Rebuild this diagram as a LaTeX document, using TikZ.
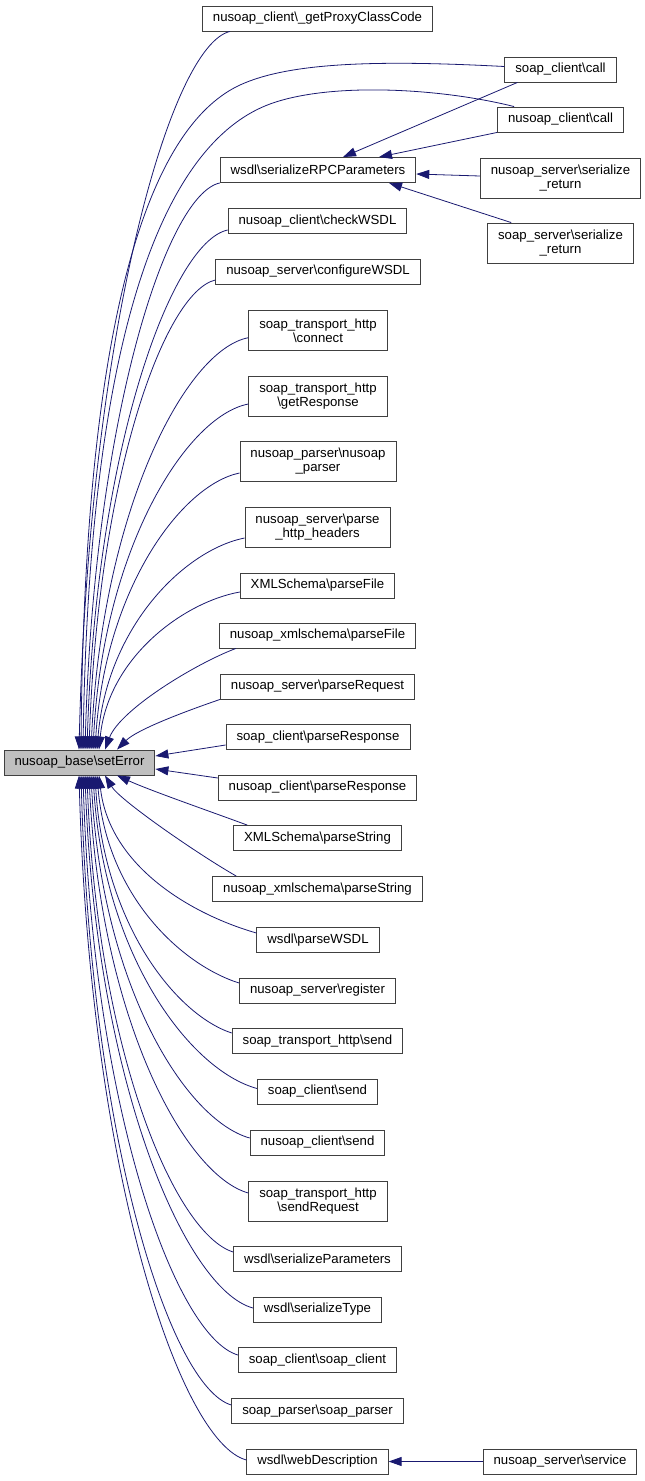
\documentclass[tikz,border=0pt]{standalone}
\usepackage{fontspec}
\setmainfont{Liberation Sans}
\usetikzlibrary{arrows.meta}
\definecolor{edgec}{HTML}{191970}
\definecolor{boxc}{HTML}{404040}
\definecolor{errfill}{HTML}{BFBFBF}
\newcommand{\bsl}{\textbackslash}
\begin{document}
\begin{tikzpicture}[x=1pt,y=-1pt,
  box/.style={draw=boxc, line width=0.9pt, fill=white, inner xsep=10.5pt, inner ysep=0pt,
    minimum height=25pt, align=center, font=\fontsize{13.2}{14.5}\selectfont},
  box2/.style={box, minimum height=40pt},
  edge/.style={draw=edgec, line width=0.8pt, -{Triangle[length=13pt,width=9pt]}},
]
\useasboundingbox (0,0) rectangle (645,1481);

\node[box] (n1) at (317.5,18.5) {nusoap\_client\bsl\_getProxyClassCode};
\node[box] (n2) at (560.5,69.5) {soap\_client\bsl call};
\node[box] (n3) at (560.5,119.5) {nusoap\_client\bsl call};
\node[box] (n4) at (318,170) {wsdl\bsl serializeRPCParameters};
\node[box2] (n5) at (560.5,178) {nusoap\_server\bsl serialize\\\_return};
\node[box2] (n6) at (560.5,243) {soap\_server\bsl serialize\\\_return};
\node[box] (n7) at (317.5,221) {nusoap\_client\bsl checkWSDL};
\node[box] (n8) at (318,271.5) {nusoap\_server\bsl configureWSDL};
\node[box2] (n9) at (318,330.7) {soap\_transport\_http\\\bsl connect};
\node[box2] (n10) at (318,396) {soap\_transport\_http\\\bsl getResponse};
\node[box2] (n11) at (318,461) {nusoap\_parser\bsl nusoap\\\_parser};
\node[box2] (n12) at (317.5,527) {nusoap\_server\bsl parse\\\_http\_headers};
\node[box] (n13) at (317.5,585.5) {XMLSchema\bsl parseFile};
\node[box] (n14) at (317.5,635.5) {nusoap\_xmlschema\bsl parseFile};
\node[box] (n15) at (317.5,686.5) {nusoap\_server\bsl parseRequest};
\node[box] (n16) at (318,737) {soap\_client\bsl parseResponse};
\node[box] (n17) at (317.5,787.5) {nusoap\_client\bsl parseResponse};
\node[box] (n18) at (317.5,838) {XMLSchema\bsl parseString};
\node[box] (n19) at (317.5,889) {nusoap\_xmlschema\bsl parseString};
\node[box] (n20) at (318,940) {wsdl\bsl parseWSDL};
\node[box] (n21) at (317.5,990.5) {nusoap\_server\bsl register};
\node[box] (n22) at (317.5,1041) {soap\_transport\_http\bsl send};
\node[box] (n23) at (317.5,1091.5) {soap\_client\bsl send};
\node[box] (n24) at (317.5,1142.5) {nusoap\_client\bsl send};
\node[box2] (n25) at (318,1201) {soap\_transport\_http\\\bsl sendRequest};
\node[box] (n26) at (317.5,1258.5) {wsdl\bsl serializeParameters};
\node[box] (n27) at (317.5,1309.5) {wsdl\bsl serializeType};
\node[box] (n28) at (317.5,1360) {soap\_client\bsl soap\_client};
\node[box] (n29) at (317.5,1411) {soap\_parser\bsl soap\_parser};
\node[box] (n30) at (317.5,1461.5) {wsdl\bsl webDescription};
\node[box] (n31) at (560,1461.5) {nusoap\_server\bsl service};
\node[box, fill=errfill] (err) at (79.5,762.5) {nusoap\_base\bsl setError};

% edges above
\draw[edge] ([xshift=28pt]n1.south west) .. controls +(-60,14) and +(10,-417) .. ([xshift=-0.5pt]err.north);
\draw[edge] ([yshift=3pt]n2.west) .. controls (380,60) and (290,62) .. (240,85) .. controls (160,122) and (85,280) .. ([xshift=1.5pt]err.north);
\draw[edge] ([xshift=17pt]n3.north west) .. controls (440,88) and (330,82) .. (270,104) .. controls (175,139) and (90,300) .. ([xshift=3.5pt]err.north);
\draw[edge] (n4.south west) .. controls +(-54,12) and +(9,-329) .. ([xshift=5.5pt]err.north);
\draw[edge] ([yshift=-9pt]n7.west) .. controls +(-56,12) and +(9,-302) .. ([xshift=7.5pt]err.north);
\draw[edge] ([yshift=-8.5pt]n8.west) .. controls +(-51,12) and +(9,-273) .. ([xshift=9.5pt]err.north);
\draw[edge] ([yshift=-7pt]n9.west) .. controls +(-63,12) and +(11,-239) .. ([xshift=11.5pt]err.north);
\draw[edge] ([yshift=-8pt]n10.west) .. controls +(-62,12) and +(10,-201) .. ([xshift=13.5pt]err.north);
\draw[edge] ([yshift=-12pt]n11.west) .. controls +(-58,12) and +(10,-161) .. ([xshift=15.5pt]err.north);
\draw[edge] ([yshift=-11pt]n12.west) .. controls +(-60,12) and +(10,-123) .. ([xshift=17.5pt]err.north);
\draw[edge] ([yshift=-6.5pt]n13.west) .. controls +(-56,10) and +(9,-92) .. ([xshift=19.5pt]err.north);
\draw[edge] ([xshift=17pt]n14.south west) .. controls +(-40,15) and +(15,-40) .. ([xshift=25.5pt]err.north);
\draw[edge] (n15.south west) .. controls +(-35,12) and +(20,-20) .. ([xshift=37.5pt]err.north);

% edges right
\draw[edge] ([yshift=-8pt]n16.west) -- ([yshift=6.5pt]err.east);
\draw[edge] ([yshift=9.5pt]n17.west) -- ([yshift=-6.5pt]err.east);

% edges below
\draw[edge] ([xshift=14pt]n18.north west) .. controls +(-38,-14) and +(33,15) .. ([xshift=37.5pt]err.south);
\draw[edge] ([xshift=24pt]n19.north west) .. controls +(-37,-21) and +(15,25) .. ([xshift=25.5pt]err.south);
\draw[edge] ([yshift=7pt]n20.west) .. controls +(-63,-18) and +(10.5,92) .. ([xshift=19.5pt]err.south);
\draw[edge] ([yshift=7.5pt]n21.west) .. controls +(-57,-18) and +(10,121) .. ([xshift=17.5pt]err.south);
\draw[edge] ([yshift=8pt]n22.west) .. controls +(-55,-18) and +(9,150) .. ([xshift=15.5pt]err.south);
\draw[edge] ([yshift=3pt]n23.west) .. controls +(-66,-18) and +(11,182) .. ([xshift=13.5pt]err.south);
\draw[edge] ([yshift=4.5pt]n24.west) .. controls +(-64,-18) and +(11,211) .. ([xshift=11.5pt]err.south);
\draw[edge] ([yshift=8pt]n25.west) .. controls +(-64,-18) and +(11,242) .. ([xshift=9.5pt]err.south);
\draw[edge] ([yshift=6.5pt]n26.west) .. controls +(-58,-18) and +(10,277) .. ([xshift=7.5pt]err.south);
\draw[edge] ([yshift=1.5pt]n27.west) .. controls +(-67,-18) and +(11,309) .. ([xshift=5.5pt]err.south);
\draw[edge] ([yshift=5pt]n28.west) .. controls +(-62,-18) and +(10,336) .. ([xshift=3.5pt]err.south);
\draw[edge] ([yshift=6pt]n29.west) .. controls +(-61,-18) and +(10,365) .. ([xshift=1.5pt]err.south);
\draw[edge] ([yshift=1.5pt]n30.west) .. controls +(-67,-18) and +(11,397) .. ([xshift=-0.5pt]err.south);

% edges into serializeRPCParameters and webDescription
\draw[edge] ([xshift=13pt]n2.south west) -- ([xshift=25pt]n4.north);
\draw[edge] (n3.south west) -- ([xshift=61pt]n4.north);
\draw[edge] ([yshift=2pt]n5.west) -- ([yshift=-4pt]n4.east);
\draw[edge] ([xshift=24pt]n6.north west) -- ([xshift=71pt]n4.south);
\draw[edge] (n31) -- (n30);
\end{tikzpicture}
\end{document}
